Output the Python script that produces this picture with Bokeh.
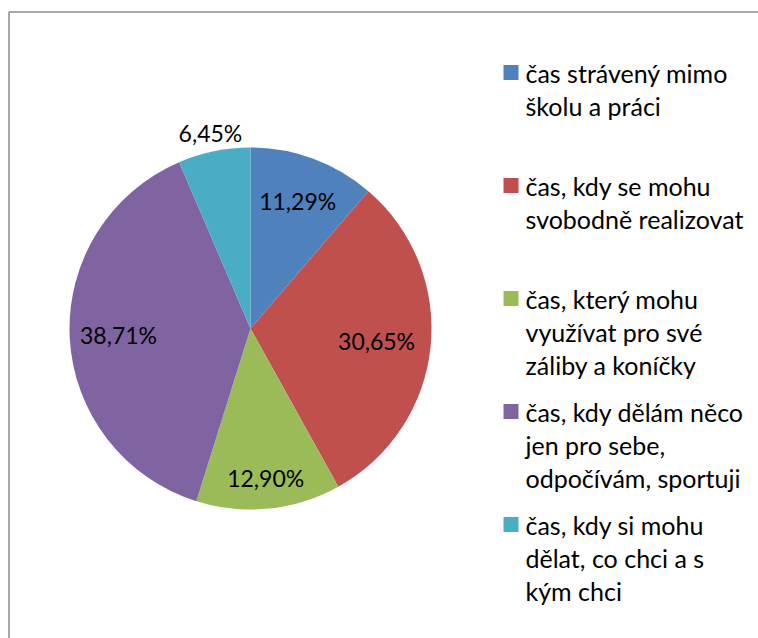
import math
from bokeh.plotting import figure
from bokeh.models import Range1d, ColumnDataSource
from bokeh.core.properties import value
from bokeh.embed import file_html
from bokeh.resources import INLINE

# ---- data ----
categories = [
    "čas strávený mimo\nškolu a práci",
    "čas, kdy se mohu\nsvobodně realizovat",
    "čas, který mohu\nvyužívat pro své\nzáliby a koníčky",
    "čas, kdy dělám něco\njen pro sebe,\nodpočívám, sportuji",
    "čas, kdy si mohu\ndělat, co chci a s\nkým chci",
]
counts = [7, 19, 8, 24, 4]
colors = ["#4F81BD", "#C0504D", "#9BBB59", "#8064A2", "#4BACC6"]

# ---- layout parameters ----
W, H = 758, 638
CX, CY, R = 250, 310, 181           # pie centre / radius (pixel-like data units)
label_r = [0.75, 0.70, 0.83, 0.73, 1.10]
FONT = "Lato"
FS_LABEL = "23px"
FS_LEGEND = "25px"

total = sum(counts)
starts, ends, pct, lx, ly = [], [], [], [], []
cum = 0.0
for i, c in enumerate(counts):
    a0 = math.pi / 2 - 2 * math.pi * cum / total
    cum += c
    a1 = math.pi / 2 - 2 * math.pi * cum / total
    starts.append(a0)
    ends.append(a1)
    mid = (a0 + a1) / 2
    lx.append(CX + label_r[i] * R * math.cos(mid))
    ly.append(CY + label_r[i] * R * math.sin(mid))
    pct.append(f"{100 * c / total:.2f}".replace(".", ",") + "%")

p = figure(width=W, height=H, output_backend="svg", toolbar_location=None,
           x_range=Range1d(0, W), y_range=Range1d(0, H),
           min_border=0, outline_line_color=None)
p.axis.visible = False
p.grid.visible = False

src = ColumnDataSource(dict(start=starts, end=ends, color=colors, lx=lx, ly=ly, pct=pct))
p.wedge(x=CX, y=CY, radius=R, start_angle="start", end_angle="end",
        direction="clock", fill_color="color", line_color=None, source=src)
p.text(x="lx", y="ly", text="pct", source=src, text_align="center",
       text_baseline="middle", text_font=value(FONT), text_font_size=FS_LABEL,
       text_color="black")

# chart-area border (left and top edges visible in the crop)
p.line(x=[8.5, 8.5, W + 20], y=[-20, H - 11.5, H - 11.5], line_color="#8c8c8c", line_width=1.5)

# legend
LX, LY0, STEP, LH = 510.5, H - 72, 113, 33
sq_x, sq_y, tx, ty, tt = [], [], [], [], []
for i, cat in enumerate(categories):
    y0 = LY0 - STEP * i
    sq_x.append(LX)
    sq_y.append(y0)
    for j, line in enumerate(cat.split("\n")):
        tx.append(LX + 14.5)
        ty.append(y0 - LH * j)
        tt.append(line)
p.rect(x=sq_x, y=sq_y, width=15, height=15, fill_color=colors, line_color=None)
p.text(x=tx, y=ty, text=tt, text_align="left", text_baseline="middle",
       text_font=value(FONT), text_font_size=FS_LEGEND, text_color="black")

open("out.html", "w").write(file_html(p, INLINE))
